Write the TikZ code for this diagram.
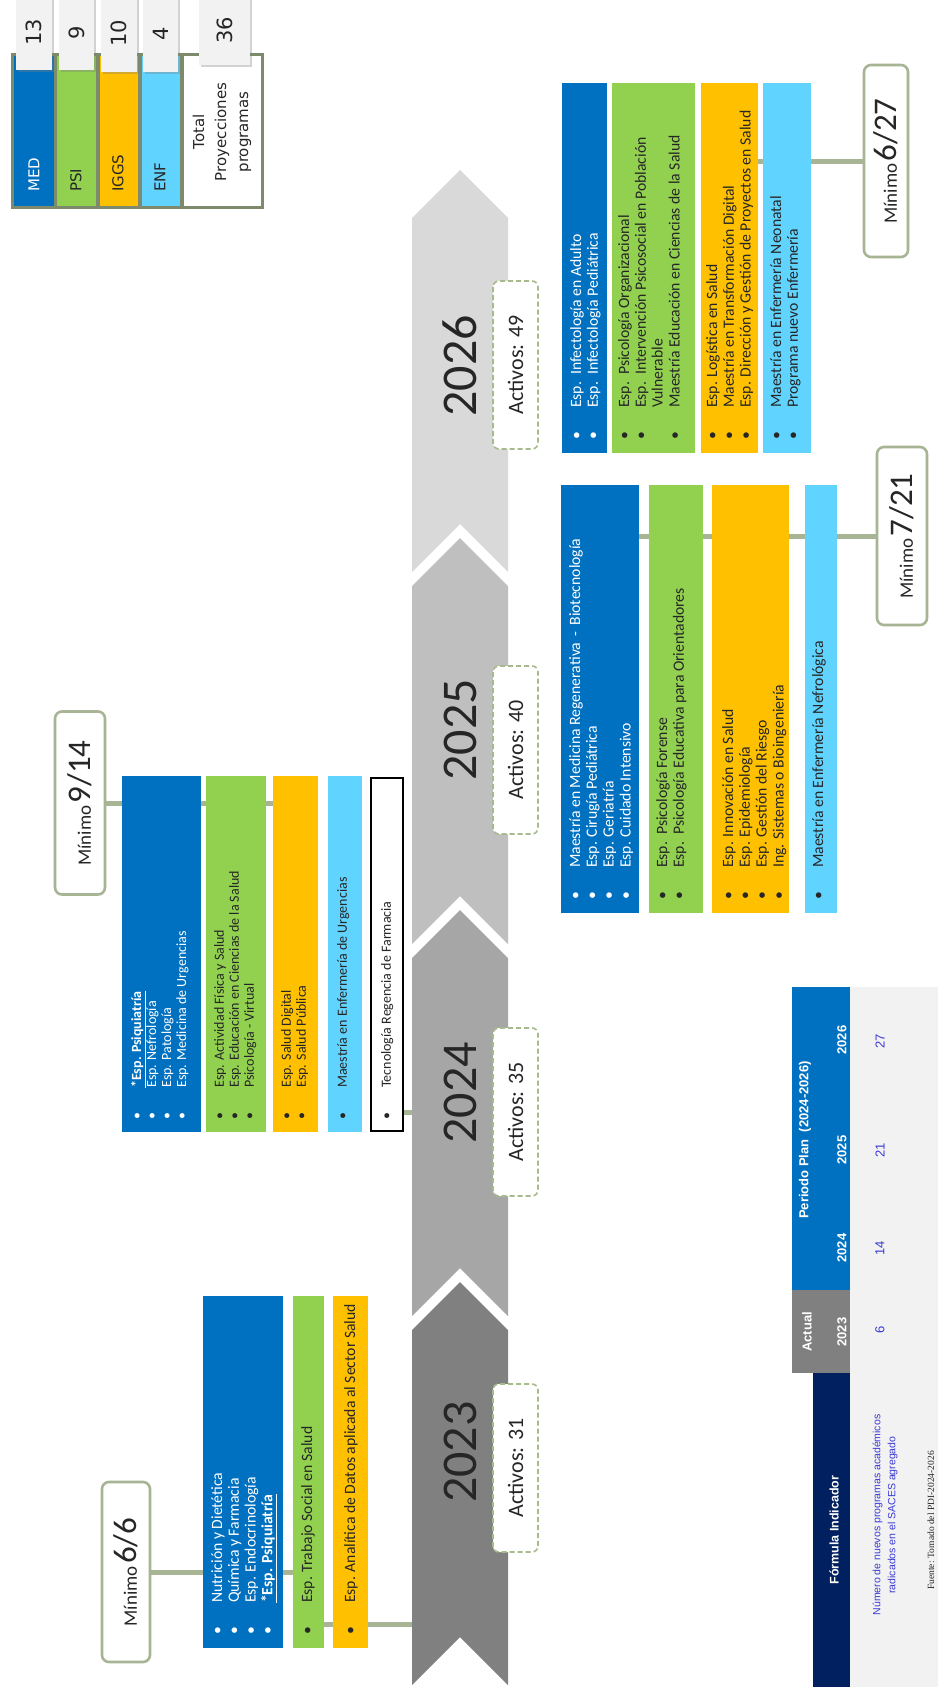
\documentclass[tikz,border=0pt]{standalone}
\usepackage{fontspec}
\setmainfont{Carlito}
\newfontfamily\dejavu{DejaVu Sans}
\newfontfamily\arialf{Liberation Sans}
\newfontfamily\timesf{Liberation Serif}
\usetikzlibrary{fit,shadows}
\definecolor{cBlue}{HTML}{0070C0}
\definecolor{cGreen}{HTML}{92D050}
\definecolor{cOrange}{HTML}{FFC000}
\definecolor{cCyan}{HTML}{61D3FF}
\definecolor{cNavy}{HTML}{002060}
\definecolor{cSage}{HTML}{A7B595}
\definecolor{cSageDark}{HTML}{7D8A6C}
\definecolor{cDash}{HTML}{A6BA8C}
\definecolor{cGa}{HTML}{808080}
\definecolor{cGb}{HTML}{A6A6A6}
\definecolor{cGc}{HTML}{BFBFBF}
\definecolor{cGd}{HTML}{D9D9D9}
\definecolor{cRow}{HTML}{F2F2F2}
\definecolor{cTxt}{HTML}{262626}
\definecolor{cVal}{HTML}{3B3BD6}
\pgfdeclarelayer{bg}
\pgfsetlayers{bg,main}
\newcommand\fbA{\fontsize{15.7}{16.8}\selectfont}
\newcommand\fbB{\fontsize{14}{15}\selectfont}
\newcommand\bi{\makebox[32pt][l]{\textbullet}}
\newcommand\ci{\hspace*{32pt}}
\newcommand\mtext[1]{{\fontsize{19}{19}\selectfont Mínimo} {\fontsize{33}{33}\selectfont #1}}
\newcommand\chev[3]{\fill[#1] (412,-#2-48) -- (460,-#2) -- (508,-#2-48) -- (508,-#3) -- (460,-#3+48) -- (412,-#3) -- cycle;}
\begin{document}
\begin{tikzpicture}[x=1pt,y=1pt,
  blk/.style={inner sep=0pt, outer sep=0pt, draw=none},
  btxt/.style={rotate=90, anchor=north west, inner sep=0pt, align=left, font=\fbA, text=cTxt},
  wtxt/.style={btxt, text=white},
  btxtB/.style={btxt, font=\fbB},
  wtxtB/.style={btxtB, text=white},
  conn/.style={draw=cSage, line width=5pt},
  minbox/.style={rotate=90, draw=cSage, line width=2.6pt, fill=white, rounded corners=7pt, inner sep=0pt, text=cTxt},
  actbox/.style={rotate=90, draw=cDash, dash pattern=on 5pt off 3pt, line width=1.6pt, fill=white, rounded corners=6pt, inner sep=0pt, minimum height=45pt, minimum width=168pt, text=cTxt, font=\fontsize{22}{22}\selectfont},
  yearlbl/.style={rotate=90, inner sep=0pt, font=\fontsize{50}{50}\selectfont, text=cTxt},
  lcell/.style={draw=cSageDark, line width=3pt, inner sep=0pt},
  ltab/.style={fill=cRow, inner sep=0pt, drop shadow={shadow xshift=2pt, shadow yshift=-2pt, opacity=0.35}},
  lnum/.style={rotate=90, inner sep=0pt, font=\dejavu\fontsize{21}{21}\selectfont, text=cTxt},
  llbl/.style={rotate=90, inner sep=0pt, anchor=west, font=\dejavu\fontsize{15}{15}\selectfont, text=cTxt},
  ttxt/.style={rotate=90, inner sep=0pt, font=\arialf\fontsize{13}{15}\selectfont},
  thd/.style={ttxt, text=white, font=\arialf\bfseries\fontsize{13}{15}\selectfont}
]
\useasboundingbox (0,0) rectangle (938,-1694);
\begin{pgfonlayer}{bg}
\fill[white] (0,0) rectangle (938,-1694);
\end{pgfonlayer}

% ---------- timeline chevrons
\chev{cGd}{170}{572}
\chev{cGc}{538}{944}
\chev{cGb}{910}{1316}
\chev{cGa}{1282}{1685}
\node[yearlbl] (y26) at (460,-366) {2026};
\node[yearlbl] (y25) at (460,-730) {2025};
\node[yearlbl] (y24) at (460,-1093) {2024};
\node[yearlbl] (y23) at (460,-1452) {2023};
\node[actbox] (a26) at (515.5,-365) {Activos: 49};
\node[actbox] (a25) at (515.5,-750) {Activos: 40};
\node[actbox] (a24) at (515.5,-1112) {Activos: 35};
\node[actbox] (a23) at (515.5,-1468) {Activos: 31};

% ---------- 2023
\node[blk, fill=cBlue, fit={(203,-1296) (283,-1648)}] (b23) {};
\node[blk, fill=cGreen, fit={(293,-1296) (324,-1648)}] (g23) {};
\node[blk, fill=cOrange, fit={(333,-1296) (368,-1648)}] (o23) {};
\node[wtxt] (tb23) at (211,-1635) {\bi Nutrición y Dietética\\ \bi Química y Farmacia\\ \bi Esp. Endocrinología\\ \bi \textbf{\underline{*Esp. Psiquiatría}}};
\node[btxt] (tg23) at (301,-1635) {\bi Esp. Trabajo Social en Salud};
\node[btxt] (to23) at (344,-1635) {\bi Esp. Analítica de Datos aplicada al Sector Salud};
\node[minbox, minimum width=180pt, minimum height=48pt] (m23) at (126,-1572) {\mtext{6/6}};
\coordinate (band23) at (412,-1624);

% ---------- 2024
\node[blk, fill=cBlue, fit={(122,-776) (201,-1132)}] (b24) {};
\node[blk, fill=cGreen, fit={(206,-776) (266,-1132)}] (g24) {};
\node[blk, fill=cOrange, fit={(273,-776) (318,-1132)}] (o24) {};
\node[blk, fill=cCyan, fit={(328,-776) (362,-1132)}] (c24) {};
\node[blk, fill=white, draw=black, line width=1.8pt, fit={(371,-778) (403,-1131)}] (w24) {};
\node[wtxtB] (tb24) at (131,-1120) {\bi \textbf{\underline{*Esp. Psiquiatría}}\\ \bi Esp. Nefrología\\ \bi Esp. Patología\\ \bi Esp. Medicina de Urgencias};
\node[btxtB] (tg24) at (214,-1120) {\bi Esp. Actividad Física y Salud\\ \bi Esp. Educación en Ciencias de la Salud\\ \bi Psicología - Virtual};
\node[btxtB] (to24) at (281,-1120) {\bi Esp. Salud Digital\\ \bi Esp. Salud Pública};
\node[btxtB] (tc24) at (337,-1120) {\bi Maestría en Enfermería de Urgencias};
\node[btxtB] (tw24) at (381,-1120) {\bi Tecnología Regencia de Farmacia};
\node[minbox, minimum width=183pt, minimum height=50pt] (m24) at (80,-803) {\mtext{9/14}};
\coordinate (band24) at (412,-1112);

% ---------- 2025
\node[blk, fill=cBlue, fit={(561,-485) (639,-913)}] (b25) {};
\node[blk, fill=cGreen, fit={(649,-485) (703,-913)}] (g25) {};
\node[blk, fill=cOrange, fit={(712,-485) (789,-913)}] (o25) {};
\node[blk, fill=cCyan, fit={(805,-485) (837,-913)}] (c25) {};
\node[wtxt] (tb25) at (569,-900) {\bi Maestría en Medicina Regenerativa \,-\, Biotecnología\\ \bi Esp. Cirugía Pediátrica\\ \bi Esp. Geriatría\\ \bi Esp. Cuidado Intensivo};
\node[btxt] (tg25) at (656,-900) {\bi Esp.\ \ Psicología Forense\\ \bi Esp.\ \ Psicología Educativa para Orientadores};
\node[btxt] (to25) at (722,-900) {\bi Esp. Innovación en Salud\\ \bi Esp. Epidemiología\\ \bi Esp. Gestión del Riesgo\\ \bi Ing. Sistemas o Bioingeniería};
\node[btxt] (tc25) at (812,-900) {\bi Maestría en Enfermería Nefrológica};
\node[minbox, minimum width=178pt, minimum height=50pt] (m25) at (902,-536) {\mtext{7/21}};

% ---------- 2026
\node[blk, fill=cBlue, fit={(562,-83) (607,-453)}] (b26) {};
\node[blk, fill=cGreen, fit={(612,-83) (695,-453)}] (g26) {};
\node[blk, fill=cOrange, fit={(701,-83) (758,-453)}] (o26) {};
\node[blk, fill=cCyan, fit={(763,-83) (811,-453)}] (c26) {};
\node[wtxt] (tb26) at (570,-440) {\bi Esp.\ \ Infectología en Adulto\\ \bi Esp.\ \ Infectología Pediátrica};
\node[btxt] (tg26) at (618,-440) {\bi Esp.\ \ Psicología Organizacional\\ \bi Esp.\ \ Intervención Psicosocial en Población\\ \ci Vulnerable\\ \bi Maestría Educación en Ciencias de la Salud};
\node[btxt] (to26) at (706,-440) {\bi Esp. Logística en Salud\\ \bi Maestría en Transformación Digital\\ \bi Esp. Dirección y Gestión de Proyectos en Salud};
\node[btxt] (tc26) at (770,-440) {\bi Maestría en Enfermería Neonatal\\ \bi Programa nuevo Enfermería};
\node[minbox, minimum width=192pt, minimum height=44pt] (m26) at (886,-161) {\mtext{6/27}};

% ---------- connectors (behind the boxes)
\begin{pgfonlayer}{bg}
\draw[conn] (m23.south) -- (g23.center |- m23.south);
\draw[conn] (g23.center |- band23) -- (band23);
\draw[conn] (m24.south) -- (o24.center |- m24.south);
\draw[conn] (w24.center |- band24) -- (band24);
\draw[conn] (b25.center |- m25.north) -- (m25.north);
\draw[conn] (o26.center |- m26.north) -- (m26.north);
\end{pgfonlayer}

% ---------- legend
\node[lcell, fill=cBlue, fit={(12,-55) (55,-207)}] (lMED) {};
\node[lcell, fill=cGreen, fit={(55,-55) (97,-207)}] (lPSI) {};
\node[lcell, fill=cOrange, fit={(98,-55) (139,-207)}] (lIGGS) {};
\node[lcell, fill=cCyan, fit={(140,-55) (181,-207)}] (lENF) {};
\node[lcell, fill=white, fit={(182,-55) (262,-207)}] (lTOT) {};
\node[ltab, fit={(16,5) (52,-70)}] (tMED) {};
\node[ltab, fit={(59,5) (94,-70)}] (tPSI) {};
\node[ltab, fit={(101,5) (137,-72)}] (tIGGS) {};
\node[ltab, fit={(143,5) (178,-72)}] (tENF) {};
\node[ltab, fit={(199,5) (250,-65)}] (tTOT) {};
\node[lnum] (nMED) at (tMED) {13};
\node[lnum] (nPSI) at (tPSI) {9};
\node[lnum] (nIGGS) at (tIGGS) {10};
\node[lnum] (nENF) at (tENF) {4};
\node[lnum] (nTOT) at (tTOT) {36};
\node[llbl, text=white] (xMED) at (34,-192) {MED};
\node[llbl] (xPSI) at (76,-192) {PSI};
\node[llbl] (xIGGS) at (118,-192) {IGGS};
\node[llbl] (xENF) at (160,-192) {ENF};
\node[rotate=90, inner sep=0pt, align=center, font=\dejavu\fontsize{15}{22}\selectfont, text=cTxt] (xTOT) at (222,-132) {Total\\Proyecciones\\programas};

% ---------- table
\node[blk, fill=cRow, fit={(850,-987) (938,-1687)}] (trow) {};
\node[blk, fill=cBlue, fit={(792,-987) (850,-1290)}] (thb) {};
\node[blk, fill=cGa, fit={(792,-1290) (850,-1373)}] (thg) {};
\node[blk, fill=cNavy, fit={(813,-1373) (850,-1687)}] (thn) {};
\node[thd, font=\arialf\bfseries\fontsize{12.5}{15}\selectfont] (hF) at (834,-1530) {Fórmula Indicador};
\node[thd] (hA) at (807,-1332) {Actual};
\node[thd] (h23) at (842,-1332) {2023};
\node[thd] (hP) at (805,-1140) {Periodo Plan\ \ (2024-2026)};
\node[thd] (h24) at (842,-1248) {2024};
\node[thd] (h25) at (842,-1150) {2025};
\node[thd] (h26) at (842,-1040) {2026};
\node[ttxt, text=cVal, align=center, font=\arialf\fontsize{10.5}{15}\selectfont] (dT) at (885,-1515) {Número de nuevos programas académicos\\radicados en el SACES agregado};
\node[ttxt, text=cVal] (v23) at (880,-1330) {6};
\node[ttxt, text=cVal] (v24) at (880,-1248) {14};
\node[ttxt, text=cVal] (v25) at (880,-1150) {21};
\node[ttxt, text=cVal] (v26) at (880,-1041) {27};
\node[rotate=90, inner sep=0pt, anchor=west, font=\timesf\fontsize{9.5}{9.5}\selectfont, text=cTxt] (src) at (931,-1590) {Fuente: Tomado del PDI-2024-2026};
\end{tikzpicture}
\end{document}
